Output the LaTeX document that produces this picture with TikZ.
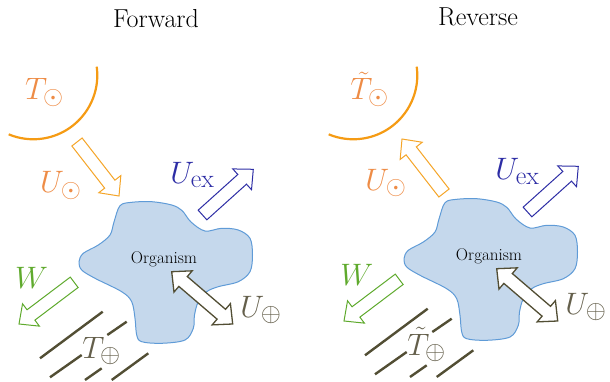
\documentclass[tikz,border=0pt]{standalone}
\usepackage{fontspec}
\DeclareMathSizes{24.88}{24.88}{20.74}{14.4}
\usetikzlibrary{calc}
\definecolor{sunc}{RGB}{245,155,20}
\definecolor{sunlab}{RGB}{238,140,70}
\definecolor{sunarr}{RGB}{245,165,40}
\definecolor{exc}{RGB}{45,45,165}
\definecolor{wc}{RGB}{95,170,45}
\definecolor{olive}{RGB}{82,78,52}
\definecolor{olivelab}{RGB}{100,95,75}
\definecolor{blobfill}{RGB}{197,216,236}
\definecolor{blobline}{RGB}{95,155,215}
\newcommand\fatarrow[3]{%
  \coordinate (fa-n) at ($(#3)!15pt!(#2)$);
  \draw[#1] ($(#2)!6.5pt!90:(#3)$) -- ($(fa-n)!6.5pt!-90:(#2)$) -- ($(fa-n)!14pt!-90:(#2)$) -- (#3)
    -- ($(fa-n)!14pt!90:(#2)$) -- ($(fa-n)!6.5pt!90:(#2)$) -- ($(#2)!6.5pt!-90:(#3)$) -- cycle;}
\newcommand\fatdarrow[3]{%
  \coordinate (fa-n1) at ($(#2)!15pt!(#3)$);
  \coordinate (fa-n2) at ($(#3)!15pt!(#2)$);
  \draw[#1] (#2) -- ($(fa-n1)!14pt!90:(#3)$) -- ($(fa-n1)!6.5pt!90:(#3)$) -- ($(fa-n2)!6.5pt!-90:(#2)$)
    -- ($(fa-n2)!14pt!-90:(#2)$) -- (#3) -- ($(fa-n2)!14pt!90:(#2)$) -- ($(fa-n2)!6.5pt!90:(#2)$)
    -- ($(fa-n1)!6.5pt!-90:(#3)$) -- ($(fa-n1)!14pt!-90:(#3)$) -- cycle;}
\newcommand\blobpath{plot[smooth cycle, tension=0.55] coordinates {(120,205.7) (131.7,202.3) (151.7,201.7) (171.7,205) (182,210.5) (191,222) (205,231) (221.7,228.3) (238.3,230) (250,238.3) (252.5,255) (250,271.7) (238.3,281.7) (218.3,286.7) (206.7,291.7) (198.3,301.7) (194.5,315) (193.3,328.3) (185,340) (161.7,343.3) (141.7,341.7) (136.7,335) (135,318.3) (131.7,301.7) (121.7,291.7) (95,278.3) (81.7,270) (79,261.7) (83.3,253.3) (98.3,245) (110,235) (114,222)}}
\begin{document}
\begin{tikzpicture}[x=1pt,y=-1pt,
  titletext/.style={font=\fontsize{26}{30}\selectfont, anchor=base, inner sep=0pt},
  lab/.style={font=\fontsize{24.88}{30}\selectfont, scale=1.246, anchor=base west, inner sep=0pt},
  orgtext/.style={font=\fontsize{17}{20}\selectfont, anchor=base, inner sep=0pt},
  sunarc/.style={draw=sunc, line width=2.2pt},
  blobshape/.style={draw=blobline, fill=blobfill, line width=1pt},
  tlines/.style={draw=olive, line width=2.4pt},
  arrsun/.style={draw=sunarr, fill=white, line width=1pt},
  arrex/.style={draw=exc, fill=white, line width=1pt},
  arrw/.style={draw=wc, fill=white, line width=1pt},
  arrp/.style={draw=olive, fill=white, line width=1.3pt}]
\useasboundingbox (0,0) rectangle (610,382);
\node[titletext] (ftitle) at (156,27.3) {Forward};
\node[titletext] (rtitle) at (478,25.7) {Reverse};
% ---------- forward panel
\begin{scope}
  \draw[sunarc] (96.7,66.7) arc[start angle=7.7, end angle=-112.6, radius=64pt];
  \node[lab, text=sunlab] (fTs) at (25,100) {$T_{\odot}$};
  \node[lab, text=sunlab] (fUs) at (40,193) {$U_{\odot}$};
  \node[lab, text=exc] (fUex) at (170,183) {$U_{\mathrm{ex}}$};
  \node[lab, text=wc] (fW) at (15,288) {$W$};
  \node[lab, text=olivelab] (fUp) at (240,317) {$U_{\oplus}$};
  \node[lab, text=olivelab] (fTp) at (82,358) {$T_{\oplus}$};
  \draw[blobshape] \blobpath;
  \node[orgtext] (forg) at (164,263.5) {Organism};
  \draw[tlines] (40,358.3) -- (102.7,311.7);
  \draw[tlines] (50,377.3) -- (81.7,355);
  \draw[tlines] (107.3,335) -- (126.7,321.7);
  \draw[tlines] (85,380) -- (101.7,368.3);
  \draw[tlines] (111.7,380) -- (148.3,353.3);
  \coordinate (fUs-a) at (77,142);   \coordinate (fUs-b) at (119,196);
  \coordinate (fUex-a) at (202.5,215); \coordinate (fUex-b) at (253.3,169.3);
  \coordinate (fUp-a) at (171.7,271.7); \coordinate (fUp-b) at (232.7,324);
  \coordinate (fW-a) at (74.2,282.3); \coordinate (fW-b) at (19,324);
\end{scope}
% ---------- reverse panel
\begin{scope}[shift={(325,-3)}]
  \draw[sunarc] (91.7,69.7) arc[start angle=7.7, end angle=-112.6, radius=64pt];
  \node[lab, text=sunlab] (rTs) at (25,103) {$\tilde{T}_{\odot}$};
  \node[lab, text=sunlab] (rUs) at (40,193) {$U_{\odot}$};
  \node[lab, text=exc] (rUex) at (170,183) {$U_{\mathrm{ex}}$};
  \node[lab, text=wc] (rW) at (15,288) {$W$};
  \node[lab, text=olivelab] (rUp) at (240,317) {$U_{\oplus}$};
  \node[lab, text=olivelab] (rTp) at (82,358) {$\tilde{T}_{\oplus}$};
  \draw[blobshape] \blobpath;
  \node[orgtext] (rorg) at (164,263.5) {Organism};
  \draw[tlines] (40,358.3) -- (102.7,311.7);
  \draw[tlines] (50,377.3) -- (81.7,355);
  \draw[tlines] (107.3,335) -- (126.7,321.7);
  \draw[tlines] (85,380) -- (101.7,368.3);
  \draw[tlines] (111.7,380) -- (148.3,353.3);
  \coordinate (rUs-a) at (119,196);   \coordinate (rUs-b) at (77,142);
  \coordinate (rUex-a) at (202.5,215); \coordinate (rUex-b) at (253.3,169.3);
  \coordinate (rUp-a) at (171.7,271.7); \coordinate (rUp-b) at (232.7,324);
  \coordinate (rW-a) at (74.2,282.3); \coordinate (rW-b) at (19,324);
\end{scope}
% ---------- fat arrows
\fatarrow{arrsun}{fUs-a}{fUs-b}
\fatarrow{arrex}{fUex-a}{fUex-b}
\fatarrow{arrw}{fW-a}{fW-b}
\fatdarrow{arrp}{fUp-a}{fUp-b}
\fatarrow{arrsun}{rUs-a}{rUs-b}
\fatarrow{arrex}{rUex-a}{rUex-b}
\fatarrow{arrw}{rW-a}{rW-b}
\fatdarrow{arrp}{rUp-a}{rUp-b}
\end{tikzpicture}
\end{document}
